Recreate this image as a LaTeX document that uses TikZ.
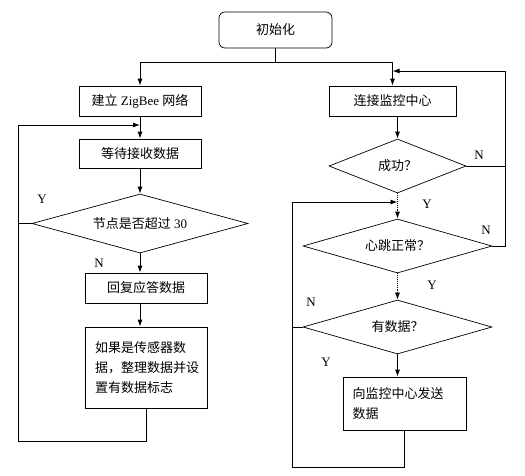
\documentclass[tikz,border=0pt]{standalone}
\usepackage{fontspec}
\setmainfont{Liberation Serif}
\newfontfamily\cjk{Noto Sans CJK SC}
\usetikzlibrary{arrows.meta,shapes.geometric}

\begin{document}
\begin{tikzpicture}[yscale=-1,x=1pt,y=1pt, % y runs downward
    box/.style={draw, line width=0.7pt, inner sep=0pt, font=\fontsize{13}{20}\selectfont},
    dec/.style={draw, diamond, aspect=3, line width=0.7pt, inner sep=0pt, font=\fontsize{13}{20}\selectfont},
    lab/.style={font=\fontsize{13}{15}\selectfont},
    >={Latex[length=7pt,width=5pt]}, line width=0.9pt]
  \useasboundingbox (0,0) rectangle (525,475);

  \node[box, rounded corners=6pt, minimum width=113, minimum height=36] (init) at (275.5,30) {\cjk 初始化};
  % left column
  \node[box, minimum width=122, minimum height=30] (zig) at (140,101) {{\cjk 建立} ZigBee {\cjk 网络}};
  \node[box, minimum width=122, minimum height=29] (wait) at (140,153.5) {\cjk 等待接收数据};
  \node[dec, minimum width=216, minimum height=59] (cnt) at (140,223.5) {{\cjk 节点是否超过} 30};
  \node[box, minimum width=122, minimum height=30] (reply) at (146,288) {\cjk 回复应答数据};
  \node[box, minimum width=122, minimum height=81, text width=102, align=left] (sense) at (146,367.5)
    {\cjk 如果是传感器数\\据，整理数据并设\\置有数据标志\\[2pt]};
  % right column
  \node[box, minimum width=127, minimum height=30] (conn) at (392.5,101) {\cjk 连接监控中心};
  \node[dec, minimum width=137, minimum height=54] (ok) at (397.5,166) {\cjk 成功？};
  \node[dec, minimum width=189, minimum height=54] (hb) at (397.5,246) {\cjk 心跳正常？};
  \node[dec, minimum width=189, minimum height=54] (data) at (397.5,327) {\cjk 有数据？};
  \node[box, minimum width=123, minimum height=53, text width=104, align=left] (send) at (404.5,403.5)
    {\cjk 向监控中心发送\\数据};

  % branch labels
  \node[lab] (y1) at (42,199) {Y};
  \node[lab] (n1) at (99,263) {N};
  \node[lab] (n2) at (479,155) {N};
  \node[lab] (y2) at (427,204) {Y};
  \node[lab] (n3) at (486,230) {N};
  \node[lab] (y3) at (432,285) {Y};
  \node[lab] (n4) at (311,302) {N};
  \node[lab] (y4) at (326,362) {Y};

  \coordinate (split) at (275.5,62);
  \coordinate (lcol) at (18,441);
  \coordinate (lin) at (140,125);
  \coordinate (rcol) at (505,71);
  \coordinate (rin) at (392.5,71);
  \coordinate (mcol) at (292,467);
  \coordinate (min) at (397.5,202);

  \draw (init) -- (split);
  \draw[->] (split) -| (zig);
  \draw[->] (split) -| (conn);
  \draw[->] (zig) -- (wait);
  \draw[->] (wait) -- (cnt);
  \draw[->] (cnt.south) -- (cnt.south |- reply.north);
  \draw[->] (reply.south -| cnt.south) -- (sense.north -| cnt.south);
  \draw[->] (sense.south) |- (lcol) |- (lin);
  \draw (cnt.west) -- (cnt.west -| lcol);

  \draw[->] (conn.south -| ok) -- (ok.north);
  \draw (ok.east) -- (ok.east -| rcol);
  \draw[->] (hb.east) -| (rcol) -- (rin);
  \draw[->, densely dotted] (ok.south) -- (hb.north);
  \draw[->, densely dotted] (hb.south) -- (data.north);
  \draw[->] (data.south) -- (data.south |- send.north);
  \draw[->] (send.south) |- (mcol) |- (min);
  \draw (data.west) -- (data.west -| mcol);
\end{tikzpicture}
\end{document}
